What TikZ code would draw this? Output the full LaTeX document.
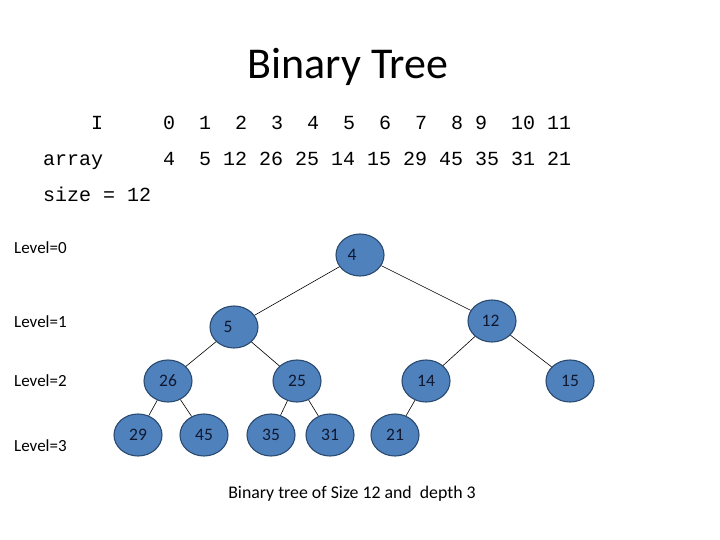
\documentclass[tikz,border=0pt]{standalone}
\usepackage{fontspec}
\setmainfont{Carlito}
\setmonofont{Liberation Mono}
\usetikzlibrary{shapes.geometric}
\definecolor{nodeblue}{HTML}{4F81BD}
\definecolor{nodeline}{HTML}{2B4A70}
\definecolor{nodetext}{HTML}{101830}
\begin{document}
\begin{tikzpicture}[x=1pt,y=-1pt,
  treenode/.style={ellipse, draw=nodeline, line width=1.1pt, fill=nodeblue,
    minimum width=48pt, minimum height=42pt, inner sep=0pt, text=nodetext,
    font=\fontsize{17.5}{20}\selectfont},
  edge/.style={draw=black, line width=0.6pt},
  lvl/.style={anchor=west, inner sep=0pt, font=\fontsize{17}{20}\selectfont},
  arrrow/.style={anchor=base west, inner sep=0pt, font=\fontsize{20}{24}\ttfamily}]
\useasboundingbox[fill=white] (0,0) rectangle (720,540);

% title
\node[anchor=base, inner sep=0pt, font=\fontsize{44}{50}\selectfont] (title) at (348,79) {Binary Tree};

% array rows
\node[arrrow] (rowI) at (43,130) {\ \ \ \ I\ \ \ \ \ 0\ \ 1\ \ 2\ \ 3\ \ 4\ \ 5\ \ 6\ \ 7\ \ 8\ 9\ \ 10\ 11};
\node[arrrow] (rowA) at (43,166) {array\ \ \ \ \ 4\ \ 5\ 12\ 26\ 25\ 14\ 15\ 29\ 45\ 35\ 31\ 21};
\node[arrrow] (rowS) at (43,202) {size\ =\ 12};

% level labels
\node[lvl] (l0) at (14,248) {Level=0};
\node[lvl] (l1) at (14,322) {Level=1};
\node[lvl] (l2) at (14,381) {Level=2};
\node[lvl] (l3) at (14,446) {Level=3};

% tree nodes
\node[treenode] (n4)  at (360,255) {4\hspace*{16pt}};
\node[treenode] (n5)  at (234,327) {5\hspace*{12pt}};
\node[treenode] (n12) at (492,321) {12\hspace*{3pt}};
\node[treenode] (n26) at (168,381) {26};
\node[treenode] (n25) at (297,381) {25};
\node[treenode] (n14) at (426,381) {14};
\node[treenode] (n15) at (570,381) {15};
\node[treenode] (n29) at (138,435) {29};
\node[treenode] (n45) at (204,435) {45};
\node[treenode] (n35) at (271,435) {35};
\node[treenode] (n31) at (330,435) {31};
\node[treenode] (n21) at (395,435) {21};

% edges
\draw[edge] (n4) -- (n5);
\draw[edge] (n4) -- (n12);
\draw[edge] (n5) -- (n26);
\draw[edge] (n5) -- (n25);
\draw[edge] (n12) -- (n14);
\draw[edge] (n12) -- (n15);
\draw[edge] (n26) -- (n29);
\draw[edge] (n26) -- (n45);
\draw[edge] (n25) -- (n35);
\draw[edge] (n25) -- (n31);
\draw[edge] (n14) -- (n21);

% caption
\node[inner sep=0pt, font=\fontsize{17.8}{20}\selectfont] (cap) at (352,494) {Binary tree of Size 12 and \ depth 3};
\end{tikzpicture}
\end{document}
